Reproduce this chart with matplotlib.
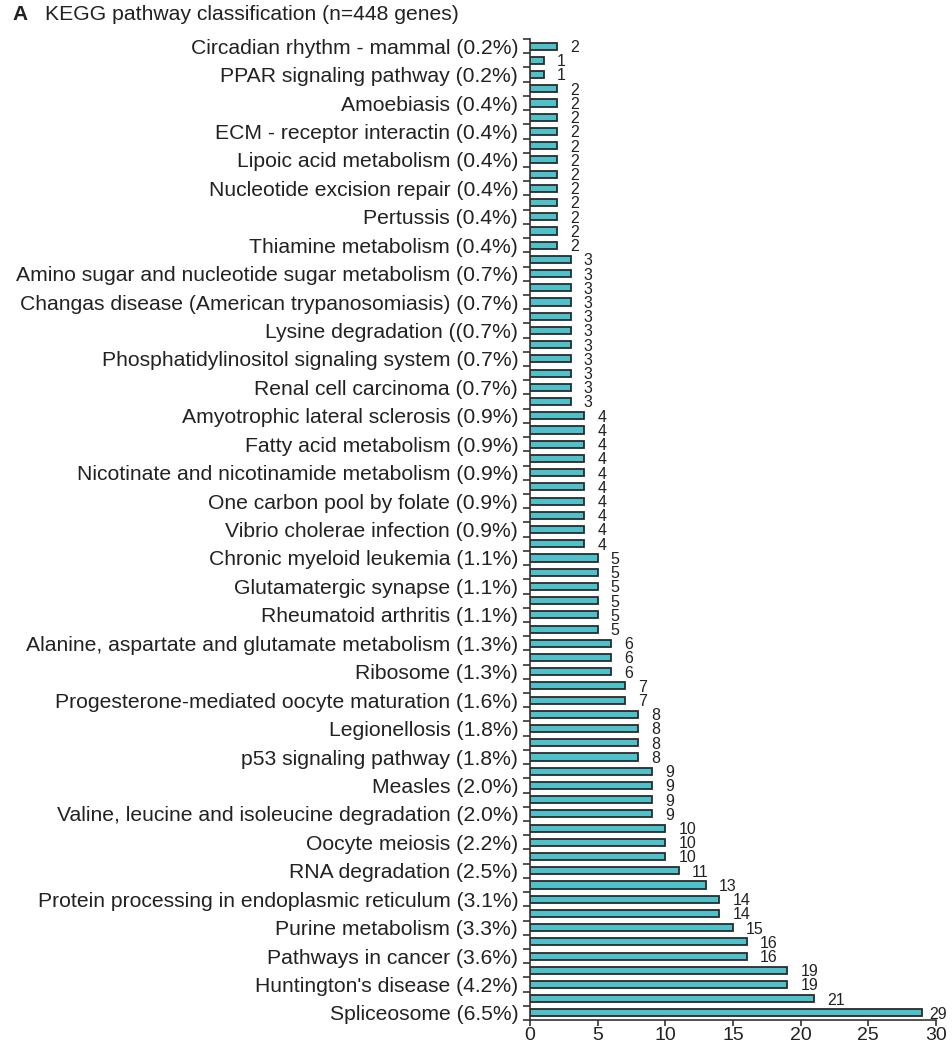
import numpy as np
import matplotlib
matplotlib.use("Agg")
import matplotlib.pyplot as plt

plt.rcParams['font.family'] = ['Liberation Sans', 'DejaVu Sans']

# gene counts per bar, top to bottom
counts = [2, 1, 1,
          2, 2, 2, 2, 2, 2, 2, 2, 2, 2, 2, 2,
          3, 3, 3, 3, 3, 3, 3, 3, 3, 3, 3,
          4, 4, 4, 4, 4, 4, 4, 4, 4, 4,
          5, 5, 5, 5, 5, 5,
          6, 6, 6,
          7, 7,
          8, 8, 8, 8,
          9, 9, 9, 9,
          10, 10, 10,
          11, 13, 14, 14, 15, 16, 16, 19, 19, 21, 29]

# only every other bar carries a label
pathways = [
    "Circadian rhythm - mammal (0.2%)",
    "PPAR signaling pathway (0.2%)",
    "Amoebiasis (0.4%)",
    "ECM - receptor interactin (0.4%)",
    "Lipoic acid metabolism (0.4%)",
    "Nucleotide excision repair (0.4%)",
    "Pertussis (0.4%)",
    "Thiamine metabolism (0.4%)",
    "Amino sugar and nucleotide sugar metabolism (0.7%)",
    "Changas disease (American trypanosomiasis) (0.7%)",
    "Lysine degradation ((0.7%)",
    "Phosphatidylinositol signaling system (0.7%)",
    "Renal cell carcinoma (0.7%)",
    "Amyotrophic lateral sclerosis (0.9%)",
    "Fatty acid metabolism (0.9%)",
    "Nicotinate and nicotinamide metabolism (0.9%)",
    "One carbon pool by folate (0.9%)",
    "Vibrio cholerae infection (0.9%)",
    "Chronic myeloid leukemia (1.1%)",
    "Glutamatergic synapse (1.1%)",
    "Rheumatoid arthritis (1.1%)",
    "Alanine, aspartate and glutamate metabolism (1.3%)",
    "Ribosome (1.3%)",
    "Progesterone-mediated oocyte maturation (1.6%)",
    "Legionellosis (1.8%)",
    "p53 signaling pathway (1.8%)",
    "Measles (2.0%)",
    "Valine, leucine and isoleucine degradation (2.0%)",
    "Oocyte meiosis (2.2%)",
    "RNA degradation (2.5%)",
    "Protein processing in endoplasmic reticulum (3.1%)",
    "Purine metabolism (3.3%)",
    "Pathways in cancer (3.6%)",
    "Huntington's disease (4.2%)",
    "Spliceosome (6.5%)",
]

x_ticks = [0, 5, 10, 15, 20, 25, 30]

bar_color = '#4fc1cb'
edge_color = '#2b2b2b'
text_color = '#222222'

fig = plt.figure(figsize=(9.52, 10.49), dpi=100)
ax = fig.add_axes([0.5567, 0.0276, 0.4265, 0.9352])

y = np.arange(len(counts))
ax.barh(y, counts, height=0.5, color=bar_color, edgecolor=edge_color,
        linewidth=1.3, zorder=3)

top = max(counts)
for yi, c in zip(y, counts):
    off = 5 if c == top else 9.5   # last label squeezed against the edge
    ax.annotate(str(c), (c, yi), xytext=(off, -1), textcoords='offset points',
                ha='left', va='center', fontsize=11.5, color=text_color,
                annotation_clip=False)

ax.set_xlim(0, 30)
ax.set_ylim(len(counts) - 0.5, -0.5)
ax.set_xticks(x_ticks)
ax.set_xticklabels([str(t) for t in x_ticks], fontsize=14, color=text_color)

# ticks at category boundaries, labels on every second bar
ax.set_yticks(np.arange(len(counts) + 1) - 0.5)
ax.set_yticklabels([])
ax.set_yticks(y[::2], minor=True)
ax.set_yticklabels(pathways, minor=True, fontsize=15.2, color=text_color)
ax.tick_params(axis='y', which='minor', length=0, pad=8.5)
ax.tick_params(axis='y', which='major', length=5, width=1.2, color='#333333')
ax.tick_params(axis='x', length=4.5, width=1.2, color='#333333', pad=0.5)

for s in ['top', 'right']:
    ax.spines[s].set_visible(False)
for s in ['left', 'bottom']:
    ax.spines[s].set_linewidth(1.2)
    ax.spines[s].set_color('#333333')

fig.text(0.013, 0.986, "A", fontsize=15, fontweight='bold', color=text_color,
         va='center')
fig.text(0.047, 0.986, "KEGG pathway classification (n=448 genes)",
         fontsize=15.2, color=text_color, va='center')

fig.savefig('out.png', dpi=100)
